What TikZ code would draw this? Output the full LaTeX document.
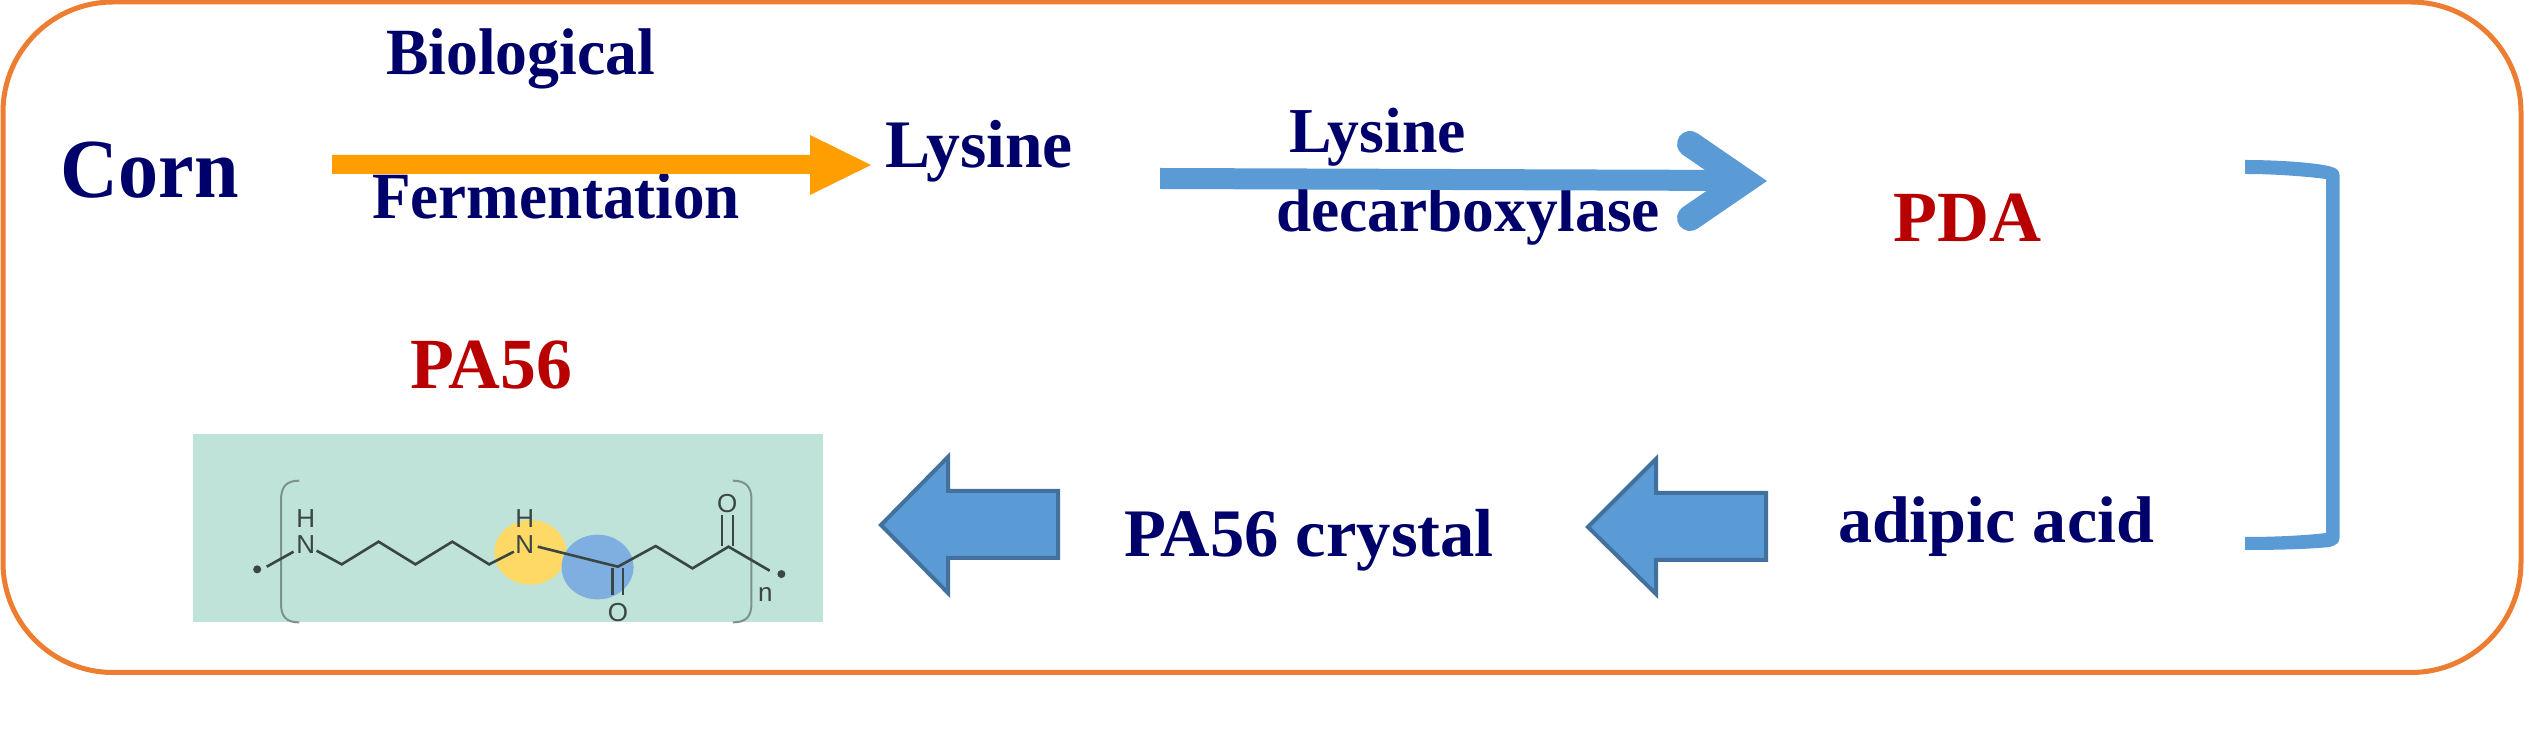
\documentclass[tikz,border=0pt]{standalone}
\usepackage{fontspec}
\usepackage{graphicx}
\setmainfont{Liberation Serif}
\newfontfamily\molfont{Liberation Sans}
\definecolor{navytext}{HTML}{00006B}
\definecolor{redtext}{HTML}{B80000}
\definecolor{frameorange}{HTML}{ED7D31}
\definecolor{arrowblue}{HTML}{5B9BD5}
\definecolor{arrowedge}{HTML}{41719C}
\definecolor{arroworange}{HTML}{FF9E00}
\definecolor{molbg}{HTML}{BFE3D8}
\definecolor{molbond}{HTML}{3A4644}
\definecolor{molbracket}{HTML}{7C938D}
\definecolor{molyellow}{HTML}{FFD966}
\definecolor{molblue}{HTML}{7FAEE0}
\newcommand{\fitw}[2]{\resizebox{#1}{\height}{#2}}
\tikzset{
  lab/.style={anchor=base west,inner sep=0pt,outer sep=0pt,font=\fontsize{33}{33}\selectfont\bfseries,text=navytext},
  redlab/.style={lab,text=redtext,font=\fontsize{36}{36}\selectfont\bfseries},
  blockarrow/.style={fill=arrowblue,draw=arrowedge,line width=2pt,line join=miter},
  bond/.style={draw=molbond,line width=1.3pt,line join=miter},
  molbr/.style={draw=molbracket,line width=1pt},
  atom/.style={inner sep=0pt,outer sep=0pt,text=molbond,font=\molfont\fontsize{13}{13}\selectfont},
  moldot/.style={circle,fill=molbond,inner sep=0pt,minimum size=4pt},
}
\begin{document}
\begin{tikzpicture}[x=0.5pt,y=-0.5pt]
\useasboundingbox (0,0) rectangle (2524,731);
\fill[white] (0,0) rectangle (2524,731);
% frame
\draw[frameorange,line width=2.5pt,rounded corners=55pt] (3,2) rectangle (2521,672.5);
% labels
\node[lab,font=\fontsize{42}{42}\selectfont\bfseries] (corn) at (61,198) {\fitw{89pt}{Corn}};
\node[lab] (bio) at (386,75) {\fitw{134.5pt}{Biological}};
\node[lab] (ferm) at (372,219) {\fitw{184pt}{Fermentation}};
\node[lab,font=\fontsize{34}{34}\selectfont\bfseries] (lys) at (885,168) {\fitw{94pt}{Lysine}};
\node[lab,font=\fontsize{32}{32}\selectfont\bfseries] (lysdec1) at (1289,153) {\fitw{88.5pt}{Lysine}};
\node[lab,font=\fontsize{32}{32}\selectfont\bfseries] (lysdec2) at (1276,232) {\fitw{192pt}{decarboxylase}};
\node[redlab] (pda) at (1893,242) {\fitw{74pt}{PDA}};
\node[redlab] (pa) at (410,389) {\fitw{81pt}{PA56}};
\node[lab,font=\fontsize{34}{34}\selectfont\bfseries] (crystal) at (1124,557) {\fitw{185pt}{PA56 crystal}};
\node[lab] (adipic) at (1838,543) {\fitw{158pt}{adipic acid}};
% orange arrow
\fill[arroworange] (332,155) -- (810,155) -- (810,135) -- (871,165) -- (810,195) -- (810,174) -- (332,174) -- cycle;
% open blue arrow
\fill[arrowblue] (1160,168) -- (1740,170) -- (1740,191) -- (1160,189) -- cycle;
\draw[arrowblue,line width=13pt,line cap=round,line join=miter] (1690,144) -- (1744,181) -- (1690,218);
% bracket
\fill[arrowblue] (2245,160) .. controls (2280,160) and (2320,163) .. (2332,167)
  .. controls (2337,168.5) and (2339.5,171) .. (2339.5,175) -- (2339.5,538)
  .. controls (2339.5,543) and (2336,545) .. (2330,547)
  .. controls (2310,549) and (2280,550) .. (2245,550) -- (2245,537)
  .. controls (2280,537) and (2310,535) .. (2326,533) -- (2326,179)
  .. controls (2310,177) and (2280,174) .. (2245,174) -- cycle;
% block arrows
\path[blockarrow] (1766,493) -- (1656,493) -- (1656,459) -- (1588,527) -- (1656,594) -- (1656,560) -- (1766,560) -- cycle;
\path[blockarrow] (1058,491) -- (948,491) -- (948,457) -- (881,525) -- (948,593) -- (948,558) -- (1058,558) -- cycle;
% molecule
\fill[molbg] (193,434) rectangle (823,622);
\begin{scope}[shift={(180,420)},x=0.2168pt,y=-0.1667pt]
  \fill[molyellow] (808,397) ellipse [x radius=83,y radius=97];
  \fill[molblue] (963,441) ellipse [x radius=83,y radius=97];
  \draw[molbr] (275,182) .. controls (245,182) and (233,200) .. (233,240) -- (233,550) .. controls (233,590) and (245,607) .. (275,607);
  \draw[molbr] (1275,182) .. controls (1305,182) and (1318,200) .. (1318,240) -- (1318,550) .. controls (1318,590) and (1305,607) .. (1275,607);
  \node[atom] (n1) at (290,375) {N};
  \node[atom] (h1) at (290,295) {H};
  \node[atom] (n2) at (795,375) {N};
  \node[atom] (h2) at (795,295) {H};
  \node[atom] (o1) at (1262,250) {O};
  \node[atom] (o2) at (1010,578) {O};
  \node[atom] (nn) at (1350,522) {n};
  \node[moldot] (d1) at (178,448) {};
  \node[moldot] (d2) at (1387,462) {};
  \draw[bond] (200,440) -- (262,395);
  \draw[bond] (315,392) -- (373,433) -- (458,365) -- (543,433) -- (628,365) -- (713,433) -- (770,395);
  \draw[bond] (825,380) -- (1010,440) -- (1097,378) -- (1182,445) -- (1265,380) -- (1360,452);
  \draw[bond] (1250,378) -- (1250,285) (1275,378) -- (1275,285);
  \draw[bond] (998,445) -- (998,525) (1022,445) -- (1022,525);
\end{scope}
\end{tikzpicture}
\end{document}
